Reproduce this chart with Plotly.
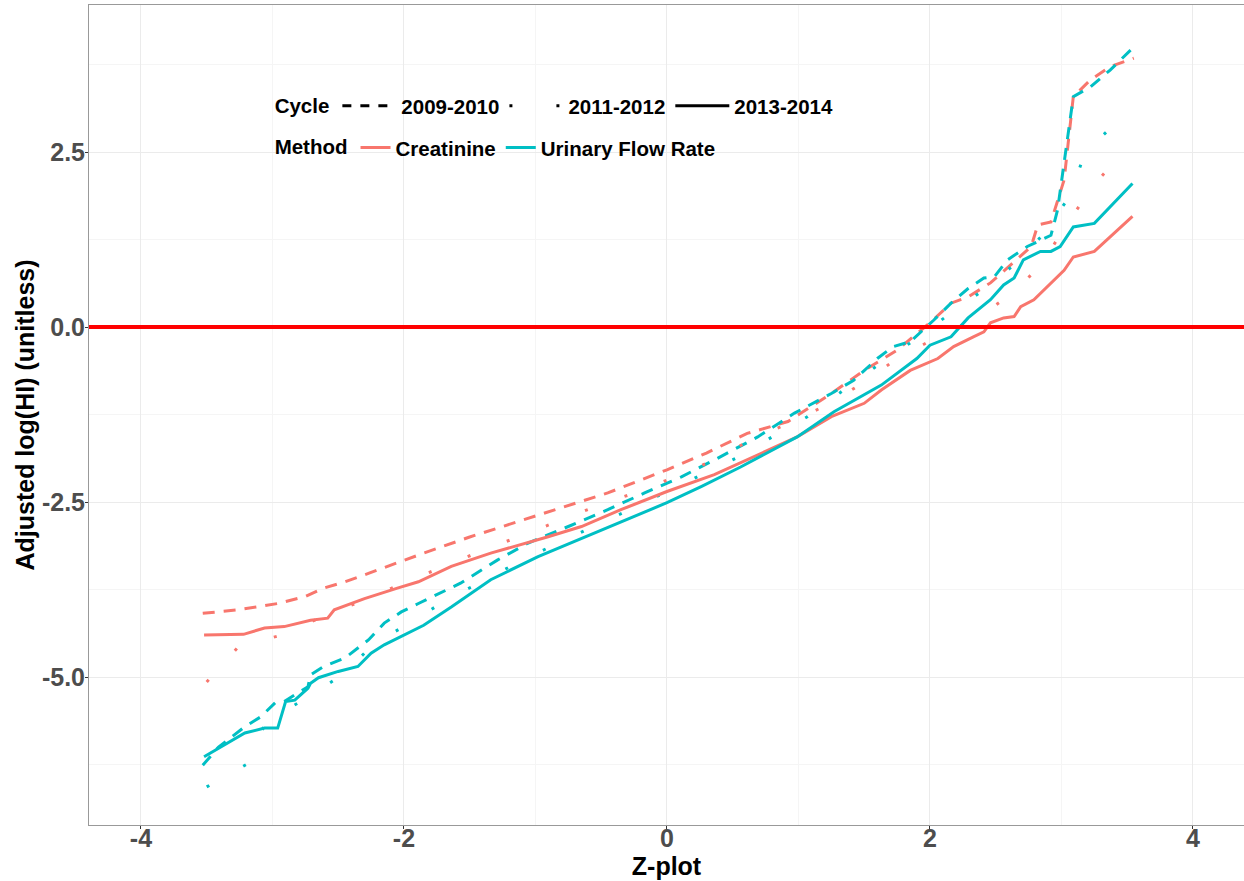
import plotly.graph_objects as go

# ---------------- data ----------------
cre_0910_x = [-3.53, -3.26, -2.96, -2.75, -2.61, -2.45, -2.27, -2.0, -1.85, -1.5, -1.01, -0.45, 0.0, 0.3, 0.61, 0.92, 1.25, 1.5, 1.75, 2.0, 2.16, 2.29, 2.46, 2.66, 2.77, 2.82, 2.92, 3.02, 3.09, 3.22, 3.37, 3.55]
cre_0910_y = [-4.09, -4.04, -3.95, -3.85, -3.73, -3.64, -3.52, -3.33, -3.23, -3.0, -2.71, -2.37, -2.04, -1.8, -1.52, -1.35, -0.95, -0.62, -0.33, 0.06, 0.34, 0.43, 0.63, 0.96, 1.15, 1.46, 1.5, 2.1, 3.29, 3.53, 3.72, 3.84]

ufr_0910_x = [-3.53, -3.41, -3.21, -3.09, -2.98, -2.91, -2.81, -2.73, -2.71, -2.61, -2.45, -2.27, -2.15, -2.02, -1.89, -1.72, -1.57, -1.29, -1.06, -0.75, -0.45, -0.17, 0.11, 0.36, 0.69, 0.97, 1.25, 1.42, 1.6, 1.72, 1.85, 2.03, 2.16, 2.29, 2.41, 2.49, 2.59, 2.74, 2.92, 2.97, 3.04, 3.09, 3.22, 3.37, 3.55]
ufr_0910_y = [-6.26, -6.0, -5.71, -5.57, -5.37, -5.35, -5.23, -5.14, -4.97, -4.85, -4.73, -4.47, -4.23, -4.07, -3.95, -3.8, -3.66, -3.33, -3.09, -2.85, -2.61, -2.37, -2.14, -1.9, -1.57, -1.23, -0.95, -0.76, -0.45, -0.28, -0.21, 0.1, 0.34, 0.55, 0.7, 0.72, 0.96, 1.15, 1.31, 1.67, 2.58, 3.29, 3.43, 3.67, 4.0]

cre_1112_x = [-3.5, -3.26, -2.93, -2.62, -2.3, -1.98, -1.36, -1.06, -0.77, -0.48, -0.18, 0.09, 0.36, 0.64, 0.93, 1.22, 1.49, 1.75, 2.06, 2.36, 2.64, 2.85, 3.05, 3.26, 3.5]
cre_1112_y = [-5.07, -4.57, -4.4, -4.14, -3.9, -3.64, -3.16, -2.95, -2.73, -2.52, -2.33, -2.11, -1.9, -1.61, -1.37, -1.11, -0.8, -0.45, -0.14, 0.13, 0.5, 0.9, 1.5, 2.06, 2.56]

ufr_1112_x = [-3.5, -3.19, -3.05, -2.75, -2.47, -2.23, -1.94, -1.67, -1.38, -1.1, -0.81, -0.53, -0.26, 0.0, 0.27, 0.54, 0.8, 1.07, 1.33, 1.6, 1.87, 2.13, 2.4, 2.64, 2.85, 3.06, 3.18, 3.42, 3.53]
ufr_1112_y = [-6.57, -6.24, -5.64, -5.31, -4.97, -4.53, -4.21, -3.89, -3.61, -3.33, -3.07, -2.83, -2.59, -2.35, -2.11, -1.86, -1.57, -1.28, -0.92, -0.55, -0.2, 0.16, 0.52, 0.89, 1.3, 1.86, 2.49, 2.93, 3.0]

cre_1314_x = [-3.52, -3.22, -3.06, -2.91, -2.71, -2.58, -2.53, -2.3, -2.05, -1.89, -1.64, -1.34, -0.91, -0.65, -0.35, 0.0, 0.36, 0.66, 0.99, 1.25, 1.5, 1.63, 1.85, 2.06, 2.18, 2.33, 2.41, 2.46, 2.56, 2.64, 2.69, 2.79, 2.92, 3.02, 3.09, 3.25, 3.54]
cre_1314_y = [-4.4, -4.39, -4.3, -4.28, -4.19, -4.16, -4.04, -3.88, -3.73, -3.64, -3.42, -3.23, -3.0, -2.85, -2.61, -2.35, -2.11, -1.85, -1.57, -1.28, -1.09, -0.9, -0.62, -0.45, -0.28, -0.14, -0.07, 0.06, 0.13, 0.15, 0.29, 0.39, 0.63, 0.81, 1.0, 1.08, 1.58]

ufr_1314_x = [-3.52, -3.21, -3.06, -2.96, -2.9, -2.83, -2.73, -2.71, -2.65, -2.5, -2.35, -2.25, -2.15, -2.0, -1.85, -1.64, -1.34, -0.98, -0.55, -0.25, 0.0, 0.26, 0.56, 0.99, 1.27, 1.63, 1.9, 2.0, 2.16, 2.29, 2.46, 2.56, 2.64, 2.71, 2.84, 2.92, 2.99, 3.09, 3.25, 3.54]
ufr_1314_y = [-6.14, -5.8, -5.73, -5.73, -5.35, -5.33, -5.16, -5.09, -5.01, -4.92, -4.85, -4.66, -4.54, -4.4, -4.26, -4.0, -3.61, -3.28, -2.94, -2.71, -2.51, -2.28, -2.0, -1.57, -1.21, -0.83, -0.45, -0.26, -0.14, 0.13, 0.39, 0.6, 0.7, 0.96, 1.08, 1.08, 1.15, 1.43, 1.48, 2.05]

cycles = ["2009-2010", "2011-2012", "2013-2014"]
methods = ["Creatinine", "Urinary Flow Rate"]
x_ticks = [-4, -2, 0, 2, 4]
y_ticks = [-5.0, -2.5, 0.0, 2.5]
y_tick_text = ["-5.0", "-2.5", "0.0", "2.5"]
ref_line_y = 0.0

# ---------------- styles ----------------
COLORS = {"Creatinine": "#F8766D", "Urinary Flow Rate": "#00BFC4"}
DASHES = {"2009-2010": "12px,9px", "2011-2012": "3px,39px", "2013-2014": "solid"}
LEG_DASHES = {"2009-2010": "9px,9px", "2011-2012": "3px,44px", "2013-2014": "solid"}
FONT = "Liberation Sans, Arial, sans-serif"

series = [
    ("Creatinine", "2009-2010", cre_0910_x, cre_0910_y),
    ("Urinary Flow Rate", "2009-2010", ufr_0910_x, ufr_0910_y),
    ("Creatinine", "2011-2012", cre_1112_x, cre_1112_y),
    ("Urinary Flow Rate", "2011-2012", ufr_1112_x, ufr_1112_y),
    ("Creatinine", "2013-2014", cre_1314_x, cre_1314_y),
    ("Urinary Flow Rate", "2013-2014", ufr_1314_x, ufr_1314_y),
]

fig = go.Figure()
for method, cycle, xs, ys in series:
    fig.add_trace(go.Scatter(
        x=xs, y=ys, mode="lines", showlegend=False,
        line=dict(color=COLORS[method], dash=DASHES[cycle], width=3),
        name=f"{method} {cycle}", hoverinfo="skip",
    ))

# legend entries
for cycle in cycles:
    fig.add_trace(go.Scatter(
        x=[None], y=[None], mode="lines", name=cycle, legend="legend",
        line=dict(color="black", dash=LEG_DASHES[cycle], width=3),
    ))
for method in methods:
    fig.add_trace(go.Scatter(
        x=[None], y=[None], mode="lines", name=method, legend="legend2",
        line=dict(color=COLORS[method], width=3),
    ))

fig.add_hline(y=ref_line_y, line=dict(color="#FF0000", width=4), layer="above")

axis_common = dict(
    showline=True, linecolor="#999999", linewidth=1, mirror=True,
    ticks="outside", ticklen=3, tickcolor="#333333", tickwidth=1,
    showgrid=True, gridcolor="#EBEBEB", gridwidth=1,
    zeroline=False,
    tickfont=dict(family=FONT, size=25, color="#4D4D4D", weight="bold"),
    title_font=dict(family=FONT, size=25, color="black", weight="bold"),
    automargin=False,
)

fig.update_xaxes(
    **axis_common,
    range=[-4.395, 4.388], tickmode="array", tickvals=x_ticks,
    ticktext=[str(v) for v in x_ticks],
    minor=dict(showgrid=True, gridcolor="#F5F5F5", dtick=1, tick0=0, ticks=""),
    title=dict(text="Z-plot", standoff=1),
    ticklabelstandoff=-12,
)
fig.update_yaxes(
    **axis_common,
    range=[-7.114, 4.6], tickmode="array", tickvals=y_ticks, ticktext=y_tick_text,
    minor=dict(showgrid=True, gridcolor="#F5F5F5", dtick=1.25, tick0=0, ticks=""),
    title=dict(text="Adjusted log(HI) (unitless)", standoff=0),
    ticklabelstandoff=-5,
)

leg_font = dict(family=FONT, size=20.5, color="black", weight="bold")
fig.update_layout(
    width=1244, height=881,
    margin=dict(l=89, r=0, t=5, b=56),
    plot_bgcolor="white", paper_bgcolor="white",
    legend=dict(
        title=dict(text="Cycle", side="left", font=leg_font),
        orientation="h", x=0.159, y=0.877, xanchor="left", yanchor="middle",
        font=leg_font, bgcolor="rgba(0,0,0,0)", itemwidth=54,
    ),
    legend2=dict(
        title=dict(text="Method", side="left", font=leg_font),
        orientation="h", x=0.159, y=0.826, xanchor="left", yanchor="middle",
        font=leg_font, bgcolor="rgba(0,0,0,0)", itemwidth=30,
    ),
)

fig.write_html(
    "out.html",
    config={"displayModeBar": False},
    post_script="document.body.style.margin='0px';document.body.style.overflow='hidden';",
)
